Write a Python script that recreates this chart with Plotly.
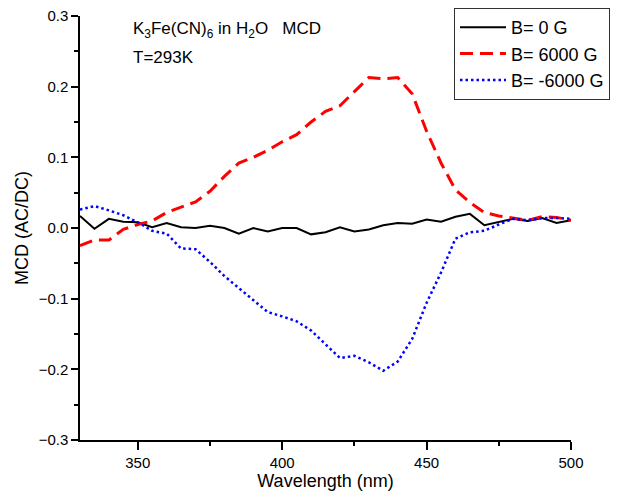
import plotly.graph_objects as go

wavelength = [330, 335, 340, 345, 350, 355, 360, 365, 370, 375, 380, 385,
              390, 395, 400, 405, 410, 415, 420, 425, 430, 435, 440, 445,
              450, 455, 460, 465, 470, 475, 480, 485, 490, 495, 500]

b_zero = [0.017, -0.001, 0.013, 0.009, 0.008, 0.001, 0.007, 0.001, 0.000,
          0.003, 0.000, -0.008, 0.000, -0.005, 0.000, 0.000, -0.009, -0.006,
          0.001, -0.005, -0.002, 0.004, 0.007, 0.006, 0.012, 0.009, 0.016,
          0.020, 0.004, 0.009, 0.013, 0.010, 0.014, 0.007, 0.011]

b_plus = [-0.025, -0.017, -0.017, -0.002, 0.005, 0.010, 0.022, 0.029, 0.037,
          0.052, 0.073, 0.092, 0.100, 0.110, 0.122, 0.132, 0.150, 0.165,
          0.173, 0.193, 0.213, 0.211, 0.213, 0.190, 0.137, 0.092, 0.054,
          0.036, 0.022, 0.017, 0.014, 0.011, 0.016, 0.015, 0.011]

b_minus = [0.026, 0.031, 0.025, 0.018, 0.008, -0.004, -0.008, -0.029, -0.030,
           -0.048, -0.068, -0.085, -0.101, -0.119, -0.125, -0.132, -0.145,
           -0.165, -0.184, -0.181, -0.190, -0.202, -0.189, -0.157, -0.106,
           -0.063, -0.015, -0.006, -0.004, 0.005, 0.013, 0.011, 0.014, 0.014,
           0.013]

font = "Liberation Sans, Arial, sans-serif"

fig = go.Figure()
fig.add_trace(go.Scatter(x=wavelength, y=b_zero, mode="lines", name="B= 0 G",
                         line=dict(color="black", width=2)))
fig.add_trace(go.Scatter(x=wavelength, y=b_plus, mode="lines", name="B= 6000 G",
                         line=dict(color="#ff0000", width=3, dash="13px,7px")))
fig.add_trace(go.Scatter(x=wavelength, y=b_minus, mode="lines", name="B= -6000 G",
                         line=dict(color="#0000ff", width=2.5, dash="2.5px,3px")))

# sample label, two lines placed separately
fig.add_annotation(text="K<sub>3</sub>Fe(CN)<sub>6</sub> in H<sub>2</sub>O\u00a0\u00a0\u00a0MCD",
                   xref="paper", yref="paper", x=0.103, y=0.967,
                   xanchor="left", yanchor="middle", align="left", showarrow=False,
                   font=dict(family=font, size=17, color="black"))
fig.add_annotation(text="T=293K",
                   xref="paper", yref="paper", x=0.103, y=0.901,
                   xanchor="left", yanchor="middle", align="left", showarrow=False,
                   font=dict(family=font, size=17, color="black"))

axis_common = dict(showline=True, linecolor="black", linewidth=1.5,
                   showgrid=False, zeroline=False, ticks="outside",
                   tickcolor="black", tickwidth=1.5, mirror=False,
                   automargin=False, ticklabeloverflow="allow",
                   tickfont=dict(family=font, size=15, color="black"))

fig.update_xaxes(range=[330, 500], dtick=50, tick0=350, ticklen=8,
                 minor=dict(dtick=25, ticklen=4, ticks="outside",
                            tickcolor="black", tickwidth=1.5),
                 title=dict(text="Wavelength (nm)", standoff=3,
                            font=dict(family=font, size=18, color="black")),
                 **axis_common)
fig.update_yaxes(range=[-0.3, 0.3], dtick=0.1, tickformat=".1f", ticklen=7,
                 minor=dict(dtick=0.05, ticklen=4, ticks="outside",
                            tickcolor="black", tickwidth=1.5),
                 title=dict(text="MCD (AC/DC)", standoff=5,
                            font=dict(family=font, size=18, color="black")),
                 **axis_common)

fig.update_layout(width=618, height=504,
                  margin=dict(l=72, r=55, t=8, b=72, autoexpand=False),
                  paper_bgcolor="white", plot_bgcolor="white",
                  font=dict(family=font, color="black"),
                  legend=dict(x=0.7617, y=1.0189, xanchor="left", yanchor="top",
                              bordercolor="#333333", borderwidth=1,
                              bgcolor="white", itemwidth=46,
                              font=dict(family=font, size=18, color="black")))

fig.write_html("out.html")
